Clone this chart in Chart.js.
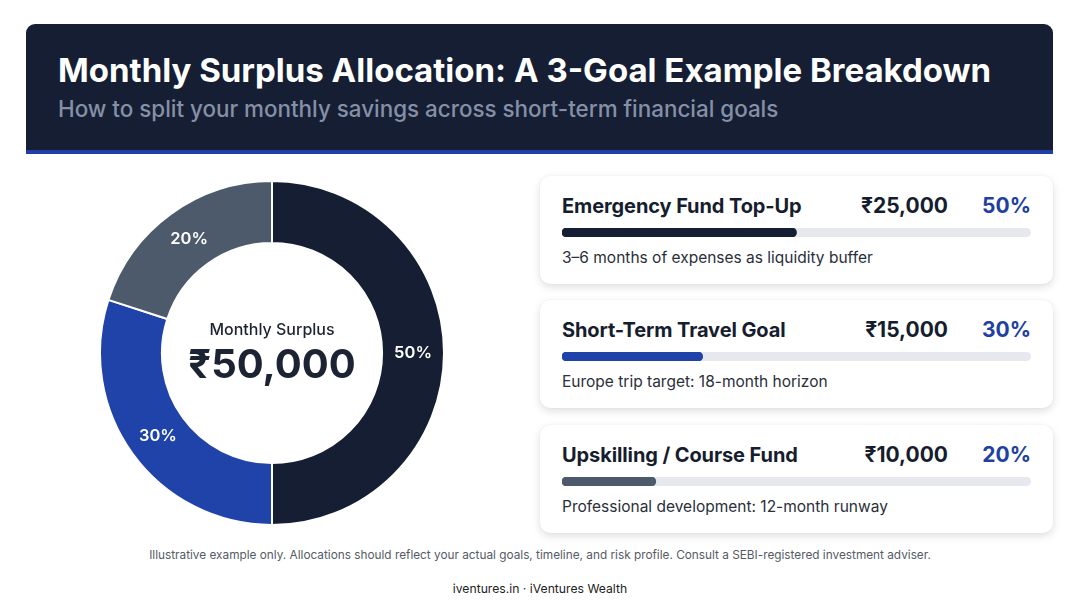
<!DOCTYPE html>
<html>
<head>
<meta charset="utf-8">
<script src="https://cdn.jsdelivr.net/npm/chart.js@4.4.1/dist/chart.umd.min.js"></script>
<style>
  html, body { margin: 0; padding: 0; background: #fff; }
  body { width: 1080px; height: 603px; position: relative; overflow: hidden; font-family: Inter, "Noto Sans", sans-serif; }
  .header { position: absolute; left: 26px; top: 24px; width: 1027px; height: 126px; background: #151e33; border-radius: 9px 9px 0 0; border-bottom: 4px solid #1e3fa8; }
  .header h1 { position: absolute; left: 32px; top: 26px; margin: 0; color: #fff; font-size: 33px; font-weight: 700; letter-spacing: 0; }
  .header p { position: absolute; left: 32px; top: 71px; margin: 0; color: #8590a6; font-size: 22.4px; font-weight: 500; }
  #donutWrap { position: absolute; left: 99px; top: 180px; width: 346px; height: 346px; }
  .card { position: absolute; left: 540px; width: 513px; height: 108px; background: #fff; border-radius: 10px; box-shadow: 0 3px 8px rgba(0,0,0,0.13), 0 0 2px rgba(0,0,0,0.06); }
  .card .t { position: absolute; left: 22px; top: 18px; font-size: 20px; font-weight: 700; color: #161d2e; letter-spacing: -0.1px; }
  .card .amt { position: absolute; right: 105px; top: 17px; font-size: 21px; font-weight: 700; color: #161d2e; }
  .card .pct { position: absolute; right: 22px; top: 17px; font-size: 21px; font-weight: 700; color: #1e40a0; }
  .card .track { position: absolute; left: 22px; top: 52px; width: 469px; height: 9px; background: #e6e8ee; border-radius: 5px; }
  .card .d { position: absolute; left: 22px; top: 72px; font-size: 15.5px; color: #2a2f3a; }
  .foot1 { position: absolute; left: 0; width: 1080px; top: 548px; text-align: center; font-size: 11.8px; color: #555b66; }
  .foot2 { position: absolute; left: 0; width: 1080px; top: 581px; text-align: center; font-size: 12.2px; color: #222; }
</style>
</head>
<body>
<div class="header">
  <h1>Monthly Surplus Allocation: A 3-Goal Example Breakdown</h1>
  <p>How to split your monthly savings across short-term financial goals</p>
</div>
<div id="donutWrap"><canvas id="donut" width="346" height="346"></canvas></div>
<div id="cards"></div>
<div class="foot1">Illustrative example only. Allocations should reflect your actual goals, timeline, and risk profile. Consult a SEBI-registered investment adviser.</div>
<div class="foot2">iventures.in · iVentures Wealth</div>
<script>
// data
var goals = ['Emergency Fund Top-Up', 'Short-Term Travel Goal', 'Upskilling / Course Fund'];
var amounts = [25000, 15000, 10000];
var shares = [50, 30, 20];
var notes = ['3–6 months of expenses as liquidity buffer', 'Europe trip target: 18-month horizon', 'Professional development: 12-month runway'];
var colors = ['#161e33', '#1f43a8', '#4d5a6b'];
var total = 50000;

function rupee(v) { return '₹' + v.toLocaleString('en-IN'); }

// percent labels on the ring + centre text
var ringLabels = {
    id: 'ringLabels',
    afterDatasetsDraw: function(chart) {
        var ctx = chart.ctx;
        var meta = chart.getDatasetMeta(0);
        ctx.save();
        ctx.fillStyle = '#fff';
        ctx.font = '600 16.5px Inter';
        ctx.textAlign = 'center';
        ctx.textBaseline = 'middle';
        meta.data.forEach(function(arc, i) {
            var p = arc.tooltipPosition();
            ctx.fillText(shares[i] + '%', p.x, p.y);
        });
        var c = meta.data[0];
        ctx.fillStyle = '#1c2333';
        ctx.font = '500 16px Inter';
        ctx.fillText('Monthly Surplus', c.x, c.y - 23);
        ctx.font = '700 40px Inter';
        ctx.fillText(rupee(total), c.x, c.y + 13);
        ctx.restore();
    }
};

new Chart(document.getElementById('donut').getContext('2d'), {
    type: 'doughnut',
    data: {
        labels: goals,
        datasets: [{
            data: shares,
            backgroundColor: colors,
            borderColor: '#fff',
            borderWidth: 2,
            hoverOffset: 0
        }]
    },
    options: {
        responsive: false,
        animation: false,
        cutout: '64%',
        plugins: { legend: { display: false }, tooltip: { enabled: false } }
    },
    plugins: [ringLabels]
});

// cards with progress bars
var tops = [176, 300, 425];
var cardsEl = document.getElementById('cards');
goals.forEach(function(g, i) {
    var card = document.createElement('div');
    card.className = 'card';
    card.style.top = tops[i] + 'px';
    card.innerHTML = '<div class="t">' + g + '</div>' +
        '<div class="amt">' + rupee(amounts[i]) + '</div>' +
        '<div class="pct">' + shares[i] + '%</div>' +
        '<div class="track"><canvas width="469" height="9"></canvas></div>' +
        '<div class="d">' + notes[i] + '</div>';
    cardsEl.appendChild(card);
    var cv = card.querySelector('canvas');
    new Chart(cv.getContext('2d'), {
        type: 'bar',
        data: {
            labels: [g],
            datasets: [{
                data: [shares[i]],
                backgroundColor: colors[i],
                borderRadius: 5,
                borderSkipped: false,
                barPercentage: 1,
                categoryPercentage: 1
            }]
        },
        options: {
            indexAxis: 'y',
            responsive: false,
            animation: false,
            layout: { padding: 0 },
            scales: {
                x: { min: 0, max: 100, display: false },
                y: { display: false }
            },
            plugins: { legend: { display: false }, tooltip: { enabled: false } }
        }
    });
});
</script>
</body>
</html>
